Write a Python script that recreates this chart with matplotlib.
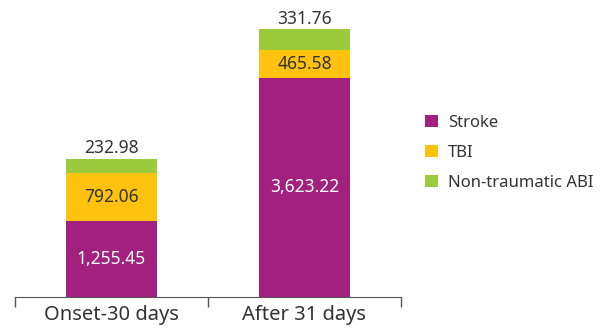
import matplotlib.pyplot as plt
import numpy as np

plt.rcParams['font.family'] = ['Noto Sans', 'DejaVu Sans']

categories = ['Onset-30 days', 'After 31 days']
series = ['Stroke', 'TBI', 'Non-traumatic ABI']
stroke = [1255.45, 3623.22]
tbi = [792.06, 465.58]
abi = [232.98, 331.76]
colors = ['#A2207E', '#FFC20E', '#9BCB3C']
label_colors = ['white', '#333333', '#333333']

fig = plt.figure(figsize=(6, 3.32), dpi=100)
ax = fig.add_axes([0.025, 0.1054, 0.6433, 0.865])

x = np.arange(len(categories)) + 0.5
bottom = np.zeros(len(categories))
handles = []
for name, vals, col, lc in zip(series, [stroke, tbi, abi], colors, label_colors):
    vals = np.array(vals)
    bars = ax.bar(x, vals, width=0.47, bottom=bottom, color=col, label=name)
    handles.append(bars)
    for xi, b, v in zip(x, bottom, vals):
        if name == 'Non-traumatic ABI':
            # top segment is labelled above the bar
            ax.text(xi, b + v + 30, f'{v:,.2f}', ha='center', va='bottom',
                    fontsize=12.5, color='#333333')
        else:
            ax.text(xi, b + v / 2, f'{v:,.2f}', ha='center', va='center',
                    fontsize=12.5, color=lc)
    bottom += vals

ax.set_xlim(0, 2)
ax.set_ylim(0, 4745)
ax.set_xticks([0, 1, 2])
ax.set_xticklabels([])
ax.set_xticks(x, minor=True)
ax.set_xticklabels(categories, minor=True, fontsize=14.5, color='#333333')
ax.tick_params(axis='x', which='major', direction='out', length=7, width=1, color='#555555')
ax.tick_params(axis='x', which='minor', length=0, pad=6)
ax.set_yticks([])
for side in ['top', 'right', 'left']:
    ax.spines[side].set_visible(False)
ax.spines['bottom'].set_color('#555555')

fig.legend(handles=handles, labels=series, loc='center left',
           bbox_to_anchor=(0.698, 0.54), frameon=False, fontsize=12,
           handlelength=0.75, handleheight=0.75, handletextpad=0.6,
           labelspacing=0.85, labelcolor='#333333', borderaxespad=0)

fig.savefig('out.png', dpi=100)
